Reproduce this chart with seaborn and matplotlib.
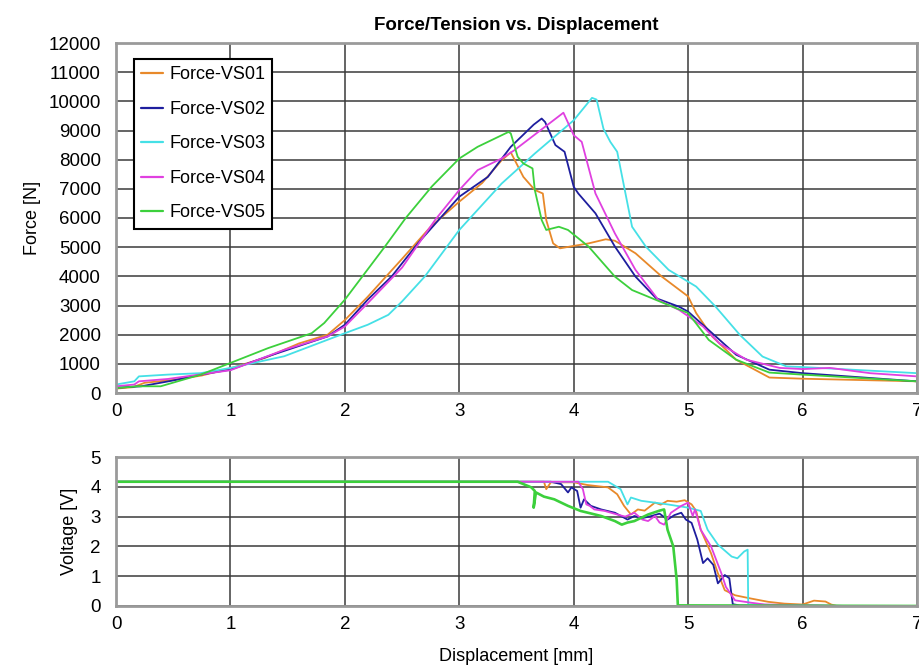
import numpy as np
import pandas as pd
import matplotlib
matplotlib.use("Agg")
import matplotlib.pyplot as plt
from matplotlib.ticker import MultipleLocator
import seaborn as sns

# ---------------- data ----------------
series_names = ["Force-VS01", "Force-VS02", "Force-VS03", "Force-VS04", "Force-VS05"]
colors = ["#E8892A", "#1E1E9E", "#45E0E6", "#E040E0", "#3CD03C"]

f01_x = [0, 0.15, 0.25, 0.5, 0.75, 1.0, 1.3, 1.6, 1.85, 2.0, 2.2, 2.5, 2.75, 3.0, 3.2, 3.37, 3.45,
         3.56, 3.66, 3.73, 3.76, 3.82, 3.88, 4.01, 4.13, 4.28, 4.36, 4.54, 4.77, 5.0, 5.07, 5.21,
         5.42, 5.71, 6.0, 7.0]
f01_y = [150, 200, 350, 450, 600, 850, 1200, 1700, 2000, 2500, 3300, 4600, 5700, 6560, 7200, 7980, 8250,
         7410, 6960, 6840, 5930, 5130, 4960, 5050, 5130, 5270, 5220, 4790, 3990, 3310, 2740, 1940,
         1140, 530, 490, 400]

f02_x = [0, 0.22, 0.5, 0.74, 1.0, 1.33, 1.85, 2.0, 2.2, 2.41, 2.64, 3.0, 3.25, 3.45, 3.65, 3.72, 3.75,
         3.84, 3.92, 4.0, 4.04, 4.19, 4.36, 4.54, 4.72, 4.92, 5.0, 5.21, 5.42, 5.71, 6.0, 7.0]
f02_y = [180, 230, 430, 630, 800, 1260, 1940, 2340, 3200, 4000, 5140, 6730, 7410, 8440, 9200, 9410, 9290,
         8500, 8270, 7070, 6840, 6160, 5020, 3990, 3250, 2960, 2790, 2050, 1310, 800, 680, 400]

f03_x = [0, 0.16, 0.2, 0.45, 0.74, 1.0, 1.47, 2.0, 2.2, 2.38, 2.5, 2.7, 3.0, 3.37, 3.66, 4.0, 4.16, 4.2,
         4.26, 4.32, 4.38, 4.51, 4.63, 4.83, 5.07, 5.24, 5.45, 5.65, 5.86, 6.0, 7.0]
f03_y = [290, 400, 570, 630, 680, 860, 1260, 2050, 2340, 2680, 3140, 4000, 5590, 7180, 8210, 9350, 10120, 10060,
         9060, 8610, 8270, 5700, 5020, 4220, 3650, 2960, 2000, 1250, 910, 890, 680]

f04_x = [0, 0.16, 0.2, 0.45, 1.0, 1.47, 1.85, 2.0, 2.2, 2.5, 2.79, 3.0, 3.16, 3.37, 3.48, 3.91, 4.0,
         4.07, 4.19, 4.36, 4.54, 4.74, 4.92, 5.13, 5.27, 5.51, 5.8, 6.0, 6.24, 6.59, 7.0]
f04_y = [230, 290, 400, 480, 780, 1480, 1940, 2280, 3080, 4300, 5940, 6960, 7640, 8040, 8320, 9610, 8840,
         8610, 6840, 5470, 4220, 3190, 2850, 2280, 1710, 1140, 860, 820, 860, 680, 570]

f05_x = [0, 0.19, 0.39, 0.74, 1.0, 1.33, 1.71, 1.82, 2.0, 2.35, 2.53, 2.76, 3.0, 3.16, 3.43, 3.45, 3.51,
         3.56, 3.64, 3.66, 3.72, 3.76, 3.87, 3.95, 4.13, 4.36, 4.51, 4.72, 5.0, 5.18, 5.42, 5.71, 6.0, 7.0]
f05_y = [170, 230, 230, 630, 1030, 1540, 2050, 2400, 3200, 5020, 5990, 7080, 8040, 8440, 8950, 8900, 8100,
         7870, 7700, 6960, 5930, 5590, 5700, 5590, 5020, 3990, 3530, 3190, 2740, 1820, 1140, 700, 630, 400]

v01_x = [0, 3.74, 3.76, 3.8, 4.0, 4.12, 4.3, 4.38, 4.44, 4.5, 4.56, 4.62, 4.71, 4.76, 4.82, 4.9, 4.97,
         5.03, 5.07, 5.11, 5.2, 5.26, 5.32, 5.41, 5.55, 5.7, 5.84, 6.0, 6.1, 6.2, 6.25, 6.3]
v01_v = [4.17, 4.17, 3.92, 4.15, 4.15, 4.06, 3.98, 3.75, 3.36, 3.07, 3.24, 3.2, 3.47, 3.4, 3.53, 3.5, 3.55,
         3.41, 3.19, 2.56, 1.77, 1.1, 0.53, 0.36, 0.25, 0.14, 0.08, 0.05, 0.18, 0.15, 0.05, 0.0]

v02_x = [0, 3.8, 3.89, 3.95, 3.98, 4.03, 4.06, 4.09, 4.15, 4.24, 4.36, 4.47, 4.53, 4.6, 4.68, 4.75,
         4.82, 4.88, 4.94, 4.98, 5.03, 5.08, 5.13, 5.17, 5.22, 5.26, 5.32, 5.36, 5.39, 5.45, 6.4]
v02_v = [4.17, 4.17, 4.09, 3.81, 3.98, 3.86, 3.3, 3.58, 3.36, 3.24, 3.13, 2.9, 3.02, 2.95, 3.02, 3.1,
         2.9, 3.05, 3.13, 2.9, 2.79, 2.23, 1.44, 1.6, 1.38, 0.76, 1.04, 0.93, 0.06, 0.02, 0.0]

v03_x = [0, 4.3, 4.41, 4.47, 4.5, 4.59, 4.82, 5.0, 5.11, 5.17, 5.26, 5.38, 5.43, 5.49, 5.52, 5.525, 6.4]
v03_v = [4.17, 4.17, 3.92, 3.41, 3.64, 3.53, 3.41, 3.3, 3.19, 2.56, 2.06, 1.66, 1.6, 1.83, 1.89, 0.05, 0.0]

v04_x = [0, 4.04, 4.08, 4.11, 4.14, 4.18, 4.27, 4.38, 4.45, 4.53, 4.6, 4.65, 4.71, 4.75, 4.79, 4.85,
         4.94, 5.0, 5.04, 5.06, 5.11, 5.2, 5.29, 5.33, 5.41, 5.55, 5.67, 6.4]
v04_v = [4.17, 4.17, 3.92, 3.41, 3.36, 3.24, 3.19, 3.07, 3.0, 3.13, 2.9, 2.85, 3.02, 2.8, 2.73, 3.13,
         3.36, 3.47, 3.02, 3.24, 2.56, 2.0, 1.1, 0.64, 0.19, 0.11, 0.05, 0.0]

v05_x = [0, 3.51, 3.63, 3.66, 3.65, 3.67, 3.74, 3.83, 3.95, 4.06, 4.24, 4.36, 4.42, 4.47, 4.53, 4.65,
         4.75, 4.79, 4.82, 4.87, 4.9, 4.91, 7.0]
v05_v = [4.17, 4.17, 3.98, 3.86, 3.3, 3.81, 3.67, 3.58, 3.36, 3.19, 3.02, 2.85, 2.73, 2.8, 2.85, 3.07,
         3.2, 3.24, 2.56, 2.0, 0.87, 0.02, 0.0]

force_x = [f01_x, f02_x, f03_x, f04_x, f05_x]
force_y = [f01_y, f02_y, f03_y, f04_y, f05_y]
volt_x = [v01_x, v02_x, v03_x, v04_x, v05_x]
volt_v = [v01_v, v02_v, v03_v, v04_v, v05_v]

df_f = pd.concat([pd.DataFrame({"x": x, "y": y, "series": n})
                  for x, y, n in zip(force_x, force_y, series_names)], ignore_index=True)
df_v = pd.concat([pd.DataFrame({"x": x, "y": y, "series": n})
                  for x, y, n in zip(volt_x, volt_v, series_names)], ignore_index=True)

# ---------------- style ----------------
sns.set_theme(style="white")
plt.rcParams["font.family"] = ["Liberation Sans", "DejaVu Sans"]
plt.rcParams["text.color"] = "black"
plt.rcParams["axes.labelcolor"] = "black"

fig = plt.figure(figsize=(9.19, 6.66), dpi=100)
W, H = 919, 666
ax1 = fig.add_axes([116 / W, 1 - 393 / H, 801 / W, 350 / H])
ax2 = fig.add_axes([116 / W, 1 - 606 / H, 801 / W, 149 / H])

pal = dict(zip(series_names, colors))
sns.lineplot(data=df_f, x="x", y="y", hue="series", palette=pal, sort=False,
             estimator=None, lw=1.3, ax=ax1)
sns.lineplot(data=df_v, x="x", y="y", hue="series", palette=pal, sort=False,
             estimator=None, lw=1.3, ax=ax2, legend=False)
ax2.lines[-1].set_linewidth(1.9)

grid_col = "#3a3a3a"
spine_col = "#9a9a9a"
for ax in (ax1, ax2):
    ax.set_xlim(0, 7)
    ax.xaxis.set_major_locator(MultipleLocator(1))
    ax.xaxis.set_minor_locator(MultipleLocator(0.5))
    ax.grid(True, which="major", color=grid_col, lw=1.1)
    ax.set_axisbelow(True)
    for s in ax.spines.values():
        s.set_color(spine_col)
        s.set_linewidth(2)
    ax.tick_params(axis="both", which="both", direction="inout", color=spine_col,
                   labelsize=13.5, labelcolor="black", width=1.5)
    ax.tick_params(axis="both", which="major", length=10)
    ax.tick_params(axis="both", which="minor", length=8)
    ax.tick_params(axis="y", which="major", pad=6)
    ax.tick_params(axis="x", which="major", pad=2)

ax1.set_ylim(0, 12000)
ax1.yaxis.set_major_locator(MultipleLocator(1000))
ax1.yaxis.set_minor_locator(MultipleLocator(500))
ax1.set_xlabel("")
ax1.set_ylabel("Force [N]", fontsize=13, labelpad=5)
ax1.set_title("Force/Tension vs. Displacement", fontsize=13.5, fontweight="bold", pad=9)

ax2.set_ylim(0, 5)
ax2.yaxis.set_major_locator(MultipleLocator(1))
ax2.yaxis.set_minor_locator(MultipleLocator(0.5))
ax2.set_xlabel("Displacement [mm]", fontsize=13, labelpad=11)
ax2.set_ylabel("Voltage [V]", fontsize=13, labelpad=9)

handles, labels = ax1.get_legend_handles_labels()
leg = ax1.legend(handles, labels, loc="upper left", bbox_to_anchor=(0.0225, 0.954),
                 borderaxespad=0, fontsize=13, frameon=True, fancybox=False,
                 handlelength=1.2, handletextpad=0.35, labelspacing=0.97,
                 borderpad=0.4, framealpha=1)
leg.get_frame().set_edgecolor("black")
leg.get_frame().set_linewidth(1.5)
for h in leg.get_lines():
    h.set_linewidth(1.6)

fig.savefig("out.png", dpi=100)
